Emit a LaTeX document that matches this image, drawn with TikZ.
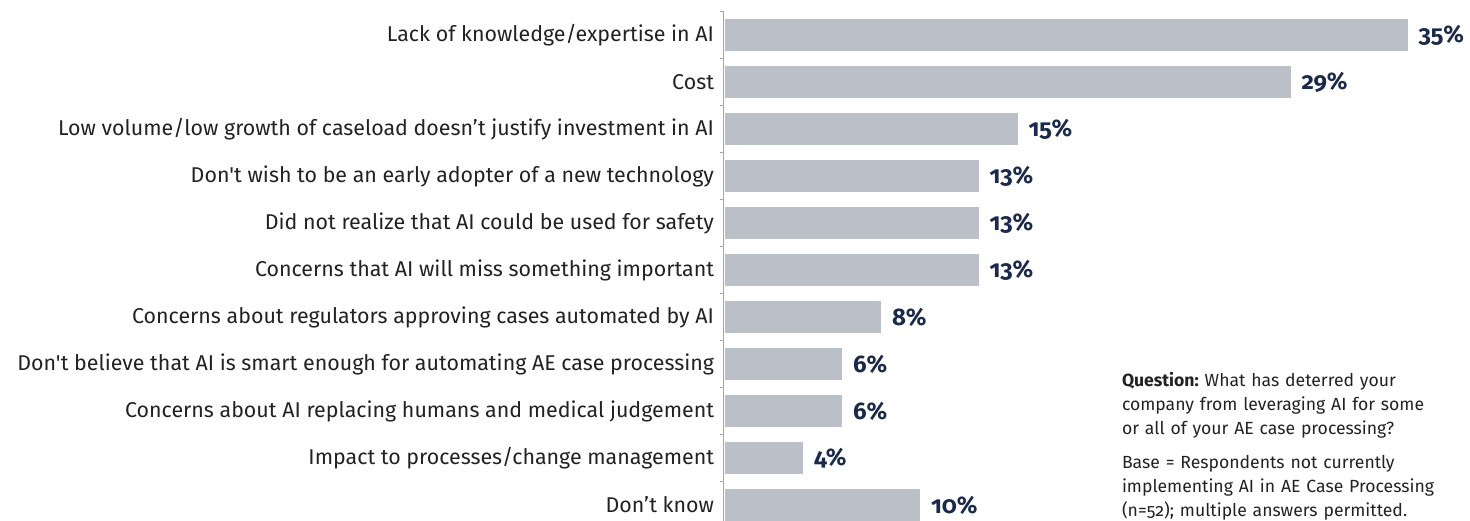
\documentclass[tikz,border=0pt]{standalone}
\usepackage{fontspec}
\setmainfont{Fira Sans}[Numbers=OldStyle,Ligatures=TeXOff]
\usetikzlibrary{positioning}
\frenchspacing

\definecolor{bargray}{HTML}{BBBFC8}
\definecolor{navy}{HTML}{1B2A4A}
\definecolor{axisgray}{HTML}{A6A6A6}
\definecolor{textgray}{HTML}{222222}

\begin{document}
\begin{tikzpicture}[x=1pt,y=-1pt]
\tikzstyle{every node}+=[inner sep=0pt, outer sep=0pt]
\tikzstyle{bar}=[fill=bargray, anchor=west, minimum height=32pt]
\tikzstyle{pct}=[text=navy, font=\fontsize{24}{26}\selectfont\bfseries]
\tikzstyle{cat}=[text=textgray, font=\fontsize{21.4}{24}\selectfont]
\useasboundingbox (0,0) rectangle (1470,521);
% axis
\draw [axisgray, line width=1.3pt] (723.5,11.5) -- (723.5,521);
\foreach \i in {0,...,10}
  \draw [axisgray, line width=1.3pt] (719.5,11.5+47*\i) -- (723.5,11.5+47*\i);
% bars
\node [bar, minimum width=19.5*35pt] (b1) at (725,35) {};
\node [bar, minimum width=19.5*29pt] (b2) at (725,82) {};
\node [bar, minimum width=19.5*15pt] (b3) at (725,129) {};
\node [bar, minimum width=19.5*13pt] (b4) at (725,176) {};
\node [bar, minimum width=19.5*13pt] (b5) at (725,223) {};
\node [bar, minimum width=19.5*13pt] (b6) at (725,270) {};
\node [bar, minimum width=19.5*8pt] (b7) at (725,317) {};
\node [bar, minimum width=19.5*6pt] (b8) at (725,364) {};
\node [bar, minimum width=19.5*6pt] (b9) at (725,411) {};
\node [bar, minimum width=19.5*4pt] (b10) at (725,458) {};
\node [bar, minimum width=19.5*10pt] (b11) at (725,505) {};
% values
\node [pct, right=11pt of b1] (v1) {35\%};
\node [pct, right=11pt of b2] (v2) {29\%};
\node [pct, right=11pt of b3] (v3) {15\%};
\node [pct, right=11pt of b4] (v4) {13\%};
\node [pct, right=11pt of b5] (v5) {13\%};
\node [pct, right=11pt of b6] (v6) {13\%};
\node [pct, right=11pt of b7] (v7) {8\%};
\node [pct, right=11pt of b8] (v8) {6\%};
\node [pct, right=11pt of b9] (v9) {6\%};
\node [pct, right=11pt of b10] (v10) {4\%};
\node [pct, right=11pt of b11] (v11) {10\%};
% categories
\node [cat, left=11pt of b1.west] (c1) {Lack of knowledge/expertise in AI};
\node [cat, left=11pt of b2.west] (c2) {Cost};
\node [cat, left=11pt of b3.west] (c3) {Low volume/low growth of caseload doesn’t justify investment in AI};
\node [cat, left=11pt of b4.west] (c4) {Don't wish to be an early adopter of a new technology};
\node [cat, left=11pt of b5.west] (c5) {Did not realize that AI could be used for safety};
\node [cat, left=11pt of b6.west] (c6) {Concerns that AI will miss something important};
\node [cat, left=11pt of b7.west] (c7) {Concerns about regulators approving cases automated by AI};
\node [cat, left=11pt of b8.west] (c8) {Don't believe that AI is smart enough for automating AE case processing};
\node [cat, left=11pt of b9.west] (c9) {Concerns about AI replacing humans and medical judgement};
\node [cat, left=11pt of b10.west] (c10) {Impact to processes/change management};
\node [cat, left=11pt of b11.west] (c11) {Don’t know};
% note
\node [anchor=north west, text=textgray, text width=345pt, align=left,
  font=\fontsize{17.6}{24}\selectfont] (note) at (1122,372)
  {\textbf{Question:} What has deterred your\\company from leveraging AI for some\\or all of your AE case processing?\par\vspace{10pt}
   Base = Respondents not currently\\implementing AI in AE Case Processing\\(n=52); multiple answers permitted.};
\end{tikzpicture}
\end{document}
